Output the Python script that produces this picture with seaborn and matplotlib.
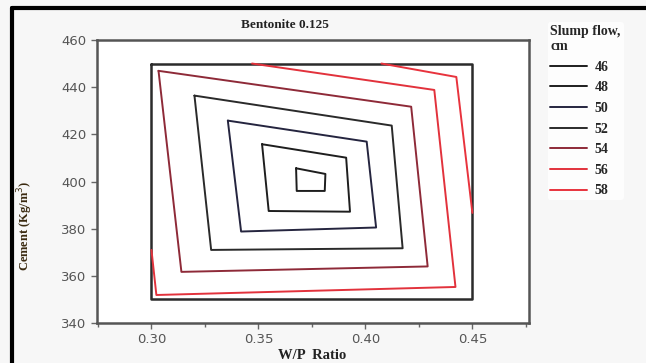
import matplotlib
matplotlib.use('Agg')
import matplotlib.pyplot as plt
from matplotlib.lines import Line2D
from matplotlib.ticker import MultipleLocator
import seaborn as sns
import pandas as pd

# contour lines of slump flow (cm), vertices
flows = [46, 48, 50, 52, 54, 56, 58]
wp_46 = [0.3676, 0.3813, 0.3810, 0.3679, 0.3676]
cem_46 = [405.6, 403.2, 396.0, 396.0, 405.6]
wp_48 = [0.3517, 0.3910, 0.3928, 0.3548, 0.3517]
cem_48 = [415.8, 410.1, 387.2, 387.5, 415.8]
wp_50 = [0.3357, 0.4006, 0.4050, 0.3419, 0.3357]
cem_50 = [425.8, 416.9, 380.5, 378.8, 425.8]
wp_52 = [0.3201, 0.4123, 0.4174, 0.3279, 0.3201]
cem_52 = [436.4, 423.7, 371.7, 371.0, 436.4]
wp_54 = [0.3033, 0.4214, 0.4291, 0.3140, 0.3033]
cem_54 = [446.9, 431.7, 364.0, 361.7, 446.9]
wp_56 = [0.3470, 0.4322, 0.4421, 0.3023, 0.3000]
cem_56 = [450.0, 438.8, 355.3, 351.9, 371.0]
wp_58 = [0.4075, 0.4425, 0.4500]
cem_58 = [450.0, 444.3, 386.7]

# design region boundary
box_wp = [0.30, 0.45, 0.45, 0.30, 0.30]
box_cem = [450, 450, 350, 350, 450]

colors = {46: '#1e1e1e', 48: '#1e1e1e', 50: '#25253f', 52: '#2a2a2a',
          54: '#8e2a38', 56: '#e2323c', 58: '#e8333d'}

wp_all = [wp_46, wp_48, wp_50, wp_52, wp_54, wp_56, wp_58]
cem_all = [cem_46, cem_48, cem_50, cem_52, cem_54, cem_56, cem_58]
rows = []
for f, xs, ys in zip(flows, wp_all, cem_all):
    for i, (x, y) in enumerate(zip(xs, ys)):
        rows.append({'flow': f, 'order': i, 'wp': x, 'cement': y})
df = pd.DataFrame(rows)

sns.set_style('white')
plt.rcParams['font.family'] = ['DejaVu Sans']

fig = plt.figure(figsize=(6.46, 3.63), dpi=100, facecolor='#f7f7f7')
ax = fig.add_axes([0.150, 0.110, 0.669, 0.780])
ax.set_facecolor('white')

ax.plot(box_wp, box_cem, color='#2b2b2b', lw=1.8, zorder=1)
sns.lineplot(data=df, x='wp', y='cement', hue='flow', palette=colors,
             sort=False, estimator=None, lw=1.4, ax=ax, zorder=2)

ax.set_xlim(0.2745, 0.4765)
ax.set_ylim(340, 460)
ax.xaxis.set_major_locator(MultipleLocator(0.05))
ax.xaxis.set_minor_locator(MultipleLocator(0.025))
ax.yaxis.set_major_locator(MultipleLocator(20))
ax.xaxis.set_major_formatter(matplotlib.ticker.FormatStrFormatter('%.2f'))
ax.tick_params(axis='both', which='both', direction='out', color='#666666',
               labelcolor='#555555', labelsize=9.5, bottom=True, left=True)
ax.tick_params(which='major', length=4, width=1)
ax.tick_params(which='minor', length=3, width=1)
for s in ax.spines.values():
    s.set_color('#555555')
    s.set_linewidth(1.8)
ax.set_xlabel('')
ax.set_ylabel('')

serif = ['Liberation Serif', 'DejaVu Serif']
fig.text(0.441, 0.931, 'Bentonite 0.125', ha='center', va='center',
         family=serif, fontweight='bold', fontsize=9.5, color='#222222')
fig.text(0.483, 0.022, 'W/P  Ratio', ha='center', va='center',
         family=serif, fontweight='bold', fontsize=10.5, color='#222222')
fig.text(0.039, 0.377, 'Cement (Kg/m$^3$)', ha='center', va='center',
         rotation=90, family=serif, fontweight='bold', fontsize=9,
         color='#3a2a10')

handles = [Line2D([0], [0], color=colors[f], lw=1.4) for f in flows]
leg = ax.legend(handles, [str(f) for f in flows], title='Slump flow,\ncm',
                loc='upper left', bbox_to_anchor=(0.837, 0.958),
                bbox_transform=fig.transFigure, frameon=True,
                prop={'family': serif, 'weight': 'bold', 'size': 10},
                title_fontproperties={'family': serif, 'weight': 'bold',
                                      'size': 10},
                handlelength=2.6, labelspacing=0.55, borderpad=0.2,
                handletextpad=0.6, alignment='left')
leg.get_frame().set_facecolor('white')
leg.get_frame().set_edgecolor('none')

# thick black frame lines along top and left of the picture
fig.add_artist(Line2D([0.018, 1.0], [0.978, 0.978], color='black', lw=3,
                      transform=fig.transFigure))
fig.add_artist(Line2D([0.018, 0.018], [0.0, 0.978], color='black', lw=3,
                      transform=fig.transFigure))

fig.savefig('out.png', dpi=100, facecolor=fig.get_facecolor())
